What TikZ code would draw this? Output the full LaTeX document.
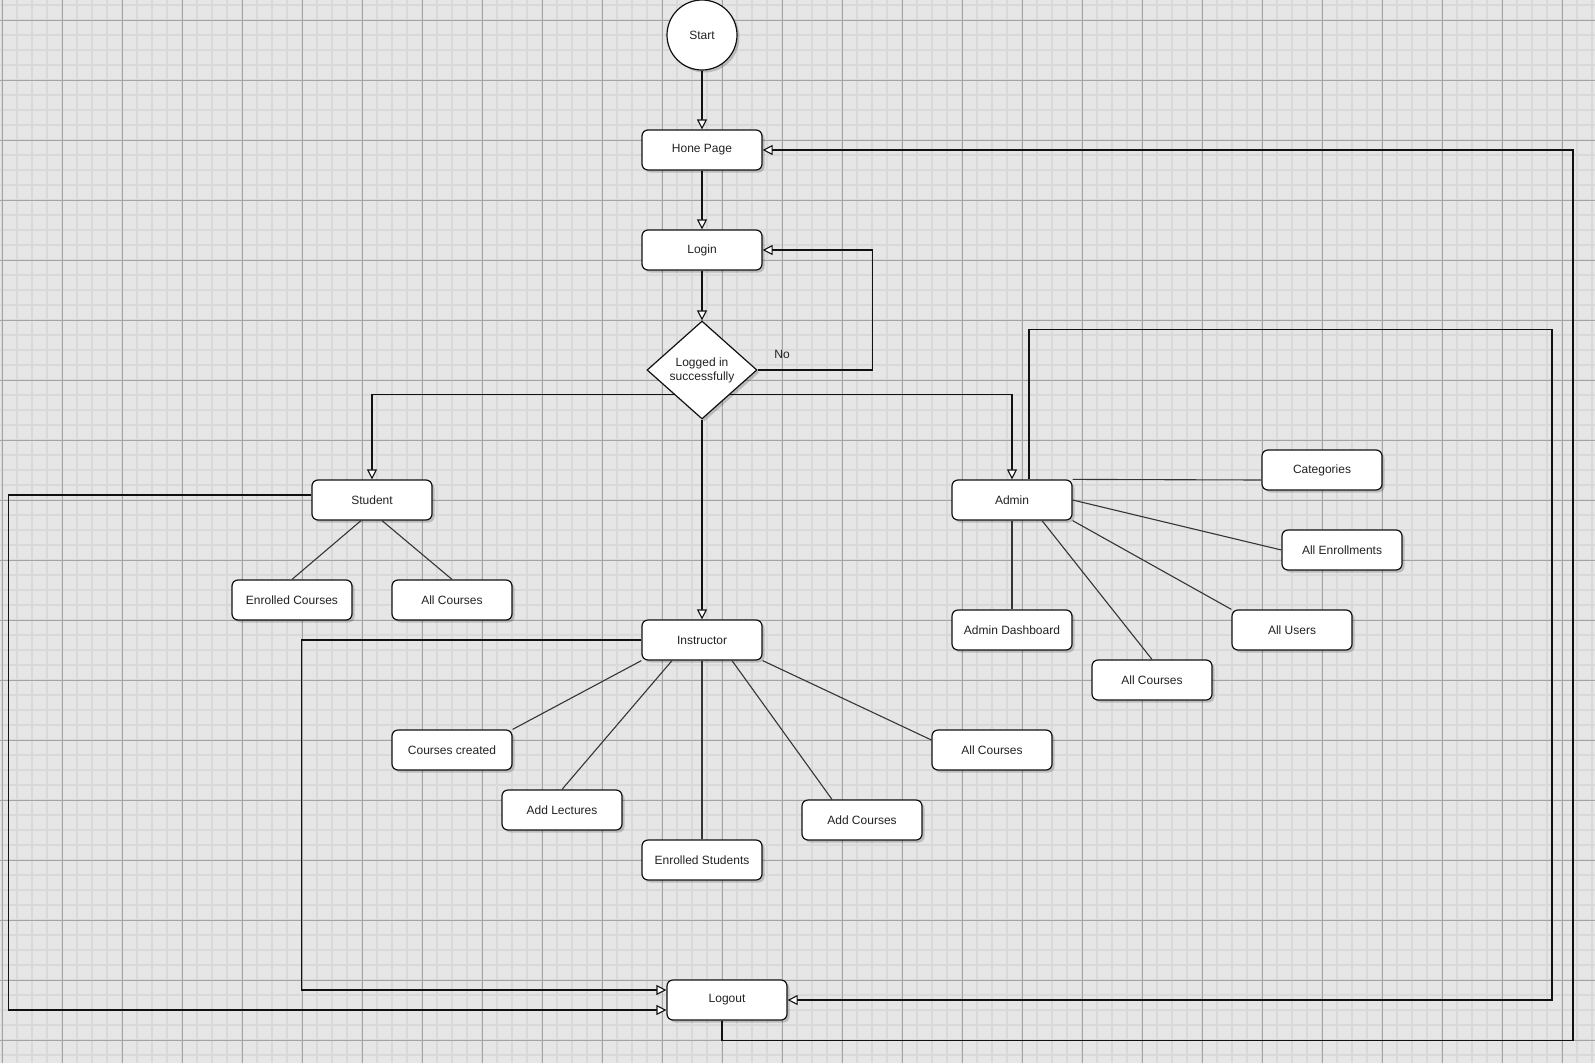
\documentclass[tikz,border=0pt]{standalone}
\usepackage{fontspec}
\setmainfont{Liberation Sans}
\usepackage{tikz}
\usetikzlibrary{arrows.meta,positioning,shapes.geometric,calc,shadows}
\definecolor{gridbg}{HTML}{E6E6E6}
\definecolor{gridminor}{HTML}{D9D9D9}
\definecolor{gridmajor}{HTML}{A4A4A4}
\definecolor{flowdark}{HTML}{111111}
\definecolor{flowtext}{HTML}{222222}
\tikzset{
  box/.style={rounded corners=6pt,draw=flowdark,fill=white,line width=1.2pt,align=center,inner sep=2pt,
    minimum width=120pt,minimum height=40pt,text=flowtext,
    drop shadow={shadow xshift=2.5pt,shadow yshift=-2.5pt,fill=black,opacity=0.18}},
  startnode/.style={box,circle,minimum size=70pt,minimum width=70pt,minimum height=70pt},
  decision/.style={box,diamond,rounded corners=0pt,minimum width=110pt,minimum height=98pt,inner sep=0pt},
  ar/.style={-{Triangle[length=10pt,width=10pt,fill=white]},draw=flowdark,line width=1.1pt},
  ln/.style={draw=flowdark!85,line width=1.1pt},
}

\begin{document}
\begin{tikzpicture}[x=1pt,y=-1pt,every node/.style={font=\fontsize{12}{14}\selectfont}]
  \useasboundingbox (0,0) rectangle (1595,1063);
  % grid paper
  \fill[gridbg] (0,0) rectangle (1595,1063);
  \foreach \x in {2,17,...,1595} \draw[gridminor,line width=1.6pt] (\x,0) -- (\x,1063);
  \foreach \y in {5,20,...,1063} \draw[gridminor,line width=1.6pt] (0,\y) -- (1595,\y);
  \foreach \x in {2,62,...,1595} \draw[gridmajor,line width=0.9pt] (\x,0) -- (\x,1063);
  \foreach \y in {20,80,...,1063} \draw[gridmajor,line width=0.9pt] (0,\y) -- (1595,\y);

  % main column
  \node[startnode] (start) at (702,35) {Start};
  \node[box] (home) at (702,150) {Hone Page};
  \node[box] (login) at (702,250) {Login};
  \node[decision] (logged) at (702,370) {Logged in\\successfully};
  \node[box] (instr) at (702,640) {Instructor};
  \node[box] (logout) at (727,1000) {Logout};

  % student side
  \node[box] (student) at (372,500) {Student};
  \node[box] (enrc) at (292,600) {Enrolled Courses};
  \node[box] (allc1) at (452,600) {All Courses};

  % admin side
  \node[box] (admin) at (1012,500) {Admin};
  \node[box] (cats) at (1322,470) {Categories};
  \node[box] (allenr) at (1342,550) {All Enrollments};
  \node[box] (allusers) at (1292,630) {All Users};
  \node[box] (allc2) at (1152,680) {All Courses};
  \node[box] (dash) at (1012,630) {Admin Dashboard};

  % instructor pages
  \node[box] (created) at (452,750) {Courses created};
  \node[box] (lect) at (562,810) {Add Lectures};
  \node[box] (enst) at (702,860) {Enrolled Students};
  \node[box] (addc) at (862,820) {Add Courses};
  \node[box] (allc3) at (992,750) {All Courses};

  % flow
  \draw[ar] (start) -- (home);
  \draw[ar] (home) -- (login);
  \draw[ar] (login) -- (logged);
  \draw[ar] (logged.east) -- ++(115,0) |- (login.east);
  \node[text=flowtext] (no) at (782,354) {No};
  \draw[ar] ($(logged.west)!.5!(logged.south)$) -| (student);
  \draw[ar] ($(logged.east)!.5!(logged.south)$) -| (admin);
  \draw[ar] (logged) -- (instr);

  % back to logout / home
  \draw[ar] ([yshift=5pt]student.west) -- ++(-303,0) |- ([yshift=-10pt]logout.west);
  \draw[ar] (instr.west) -- ++(-340,0) |- ([yshift=10pt]logout.west);
  \draw[ar] ([xshift=17pt]admin.north) -- ++(0,-150) -- ++(523,0) |- (logout.east);
  \draw[ar] ([xshift=-5pt]logout.south) -- ++(0,20) -- ++(851,0) |- (home.east);

  % plain links
  \draw[ln] ([xshift=-11pt]student.south) -- (enrc.north);
  \draw[ln] ([xshift=10pt]student.south) -- (allc1.north);
  \draw[ln] (admin.north east) -- ([yshift=-10pt]cats.west);
  \draw[ln] (admin.east) -- (allenr.west);
  \draw[ln] (admin.south east) -- (allusers.north west);
  \draw[ln] ([xshift=30pt]admin.south) -- (allc2.north);
  \draw[ln] (admin) -- (dash);
  \draw[ln] (instr.south west) -- (created.north east);
  \draw[ln] ([xshift=-30pt]instr.south) -- (lect.north);
  \draw[ln] (instr) -- (enst);
  \draw[ln] ([xshift=30pt]instr.south) -- ([xshift=-30pt]addc.north);
  \draw[ln] (instr.south east) -- ([yshift=10pt]allc3.west);
\end{tikzpicture}
\end{document}
